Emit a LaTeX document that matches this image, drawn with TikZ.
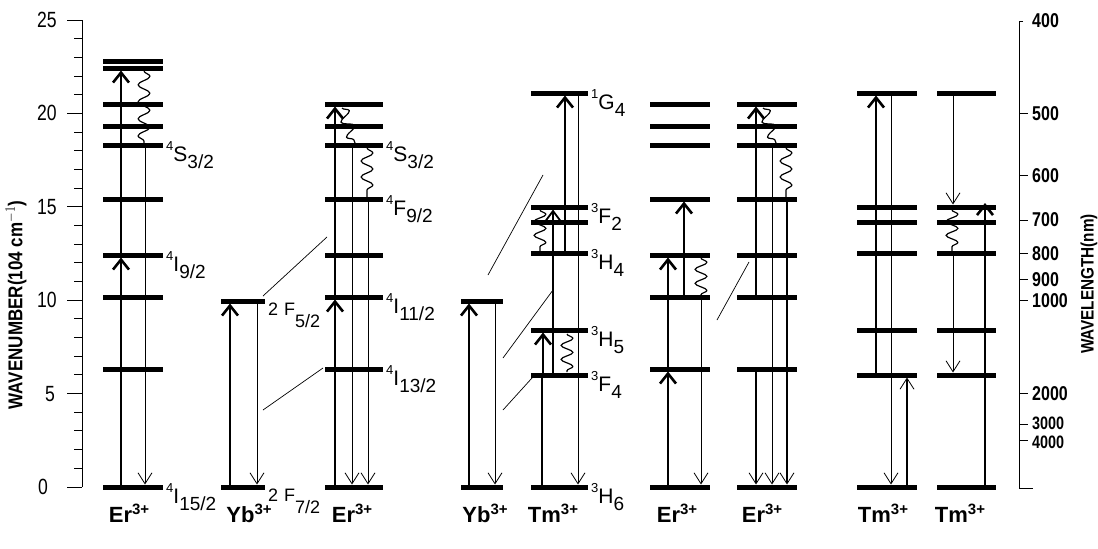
\documentclass[tikz,border=0pt]{standalone}
\usepackage{fontspec}
\setmainfont{Liberation Sans}
\newfontfamily\narrowfont[FakeStretch=0.8]{Liberation Sans}
\usetikzlibrary{arrows.meta,decorations.pathmorphing}
\newcommand{\termlab}[3]{\raisebox{11pt}{\fontsize{13}{13}\selectfont #1}{\fontsize{21}{21}\selectfont #2}\raisebox{-7pt}{\fontsize{19}{19}\selectfont #3}}
\newcommand{\ionlab}[1]{{\bfseries\fontsize{22}{22}\selectfont #1\raisebox{8pt}{\fontsize{15}{15}\selectfont 3+}}}
\newcommand{\ybterm}[1]{{\fontsize{18}{18}\selectfont 2\hspace{6pt}F\raisebox{-12pt}{\fontsize{18}{18}\selectfont #1}}}
\begin{document}
\begin{tikzpicture}[x=1pt,y=-1pt,
  lev/.style={line width=5pt},
  axisline/.style={line width=1pt},
  thickarrow/.style={line width=2.6pt,-{Straight Barb[length=10pt,width=16pt]}},
  medarrow/.style={line width=1.8pt,-{Straight Barb[length=10pt,width=15pt]}},
  medline/.style={line width=1.8pt},
  medthin/.style={line width=1.6pt,-{Straight Barb[length=11pt,width=14pt,line width=0.8pt]}},
  thinarrow/.style={line width=0.8pt,-{Straight Barb[length=11pt,width=14pt]}},
  wavy/.style={line width=1.2pt,line join=round,decorate,decoration={snake,amplitude=6pt,segment length=#1}},
  diag/.style={line width=0.7pt},
  termnode/.style={anchor=base west,inner sep=0pt},
  ionnode/.style={anchor=base,inner sep=0pt},
  lefttick/.style={inner sep=0pt,font=\narrowfont\fontsize{22}{22}\selectfont},
  righttick/.style={anchor=west,inner sep=0pt,font=\narrowfont\bfseries\fontsize{20}{20}\selectfont},
]
\useasboundingbox (0,0) rectangle (1098,549);

% ---------- left axis ----------
\draw[axisline] (82,20) -- (82,487);
\foreach \e in {0,...,25} {
  \pgfmathsetmacro\yy{487-18.68*\e}
  \draw[axisline] (74,\yy) -- (82,\yy);
}
\foreach \e in {0,5,...,25} {
  \pgfmathsetmacro\yy{487-18.68*\e}
  \draw[axisline] (67,\yy) -- (82,\yy);
}
\node[lefttick] (t25) at (47,20) {25};
\node[lefttick] (t20) at (47,113.4) {20};
\node[lefttick] (t15) at (47,206.8) {15};
\node[lefttick] (t10) at (47,300.2) {10};
\node[lefttick] (t5) at (50,393.6) {5};
\node[lefttick] (t0) at (43,487) {0};
\node[rotate=90,inner sep=0pt] (ylab) at (16,305)
  {\scalebox{0.85}[1]{\bfseries\fontsize{20}{20}\selectfont WAVENUMBER(104 cm$^{-1}$)}};

% ---------- right axis ----------
\draw[axisline] (1023,21) -- (1019,21) -- (1019,488) -- (1033,488);
\foreach \yy in {113.4,175.7,220.1,253.5,279.4,300.2,393.6,424.7,440.3}
  \draw[axisline] (1019,\yy) -- (1028,\yy);
\node[righttick] (w400) at (1032,21) {400};
\node[righttick] (w500) at (1032,113.4) {500};
\node[righttick] (w600) at (1032,175.7) {600};
\node[righttick] (w700) at (1032,220.1) {700};
\node[righttick] (w800) at (1032,253.5) {800};
\node[righttick] (w900) at (1032,279.4) {900};
\node[righttick] (w1000) at (1032,300.2) {1000};
\node[righttick] (w2000) at (1032,393.6) {2000};
\node[righttick,anchor=south west,font=\narrowfont\bfseries\fontsize{18}{18}\selectfont] (w3000) at (1032,430) {3000};
\node[righttick,anchor=north west,font=\narrowfont\bfseries\fontsize{18}{18}\selectfont] (w4000) at (1032,436) {4000};
\node[rotate=90,inner sep=0pt] (rlab) at (1089,284)
  {\scalebox{0.85}[1]{\bfseries\fontsize{18}{18}\selectfont WAVELENGTH(nm)}};

% ---------- levels ----------
\foreach \y in {487,369,297,255,199,145,126,104,68,61}
  \draw[lev] (103,\y) -- (163,\y);
\foreach \y in {487,301} {
  \draw[lev] (221,\y) -- (265,\y);
  \draw[lev] (461,\y) -- (503,\y);
}
\foreach \y in {487,369,297,255,199,145,126,104} {
  \draw[lev] (325,\y) -- (383,\y);
  \draw[lev] (650,\y) -- (710,\y);
  \draw[lev] (737,\y) -- (797,\y);
}
\foreach \y in {487,375,330,253,222,207,93} {
  \draw[lev] (531,\y) -- (588,\y);
  \draw[lev] (857,\y) -- (917,\y);
  \draw[lev] (937,\y) -- (996,\y);
}

% ---------- Er column 1 ----------
\draw[thickarrow] (121,487) -- (121,257.5);
\draw[thickarrow] (121,255) -- (121,70.5);
\draw[wavy=17pt] (144,71) -- (144,143);
\draw[thinarrow] (145,147) -- (145,484.5);

% ---------- Yb column 1 ----------
\draw[thickarrow] (230,487) -- (230,303.5);
\draw[thinarrow] (257,303) -- (257,484.5);

% ---------- Er column 2 ----------
\draw[thickarrow] (335,487) -- (335,299.5);
\draw[thickarrow] (335,297) -- (335,106.5);
\draw[wavy=16pt] (342,108) -- (355,143);
\draw[thinarrow] (352,147) -- (352,484.5);
\draw[wavy=16pt] (367,148) -- (367,197);
\draw[thinarrow] (368,201) -- (368,484.5);

% ---------- Yb column 2 ----------
\draw[thickarrow] (469,487) -- (469,303.5);
\draw[thinarrow] (495,303) -- (495,484.5);

% ---------- Tm column 1 ----------
\draw[medline] (542,487) -- (542,375);
\draw[thickarrow] (543,375) -- (543,332.5);
\draw[wavy=14pt] (567,334) -- (567,372);
\draw[medarrow] (553,375) -- (553,209.5);
\draw[wavy=14pt] (540,210) -- (540,251);
\draw[thickarrow] (565,253) -- (565,95.5);
\draw[thinarrow] (578,95) -- (578,484.5);

% ---------- Er column 3 ----------
\draw[thickarrow] (668,487) -- (668,371.5);
\draw[thickarrow] (668,369) -- (668,257.5);
\draw[thickarrow] (684,297) -- (684,201.5);
\draw[wavy=14pt] (701,258) -- (701,295);
\draw[thinarrow] (701,299) -- (701,484.5);

% ---------- Er column 4 ----------
\draw[thickarrow] (756,297) -- (756,106.5);
\draw[wavy=16pt] (763,108) -- (776,143);
\draw[thinarrow] (772,147) -- (772,484.5);
\draw[wavy=16pt] (786,148) -- (786,197);
\draw[medthin] (787,201) -- (787,484.5);
\draw[medthin] (756,371) -- (756,484.5);

% ---------- Tm column 2 ----------
\draw[thickarrow] (876,375) -- (876,95.5);
\draw[thinarrow] (891,95) -- (891,484.5);
\draw[medthin] (907,487) -- (907,377.5);

% ---------- Tm column 3 ----------
\draw[thinarrow] (953,95) -- (953,204.5);
\draw[wavy=14pt] (952,210) -- (952,251);
\draw[thinarrow] (953,255) -- (953,372.5);
\draw[thickarrow] (985,487) -- (985,203);

% ---------- energy transfer lines ----------
\draw[diag] (263,296) -- (327,237);
\draw[diag] (263,410) -- (323,368);
\draw[diag] (488,275) -- (543,175);
\draw[diag] (503,358) -- (553,290);
\draw[diag] (503,410) -- (532,378);
\draw[diag] (717,320) -- (749,262);

% ---------- term labels ----------
\node[termnode] (a1) at (166,161) {\termlab{4}{S}{3/2}};
\node[termnode] (a2) at (166,271) {\termlab{4}{I}{9/2}};
\node[termnode] (a3) at (166,503) {\termlab{4}{I}{15/2}};
\node[termnode] (b1) at (268,315) {\ybterm{5/2}};
\node[termnode] (b2) at (268,501) {\ybterm{7/2}};
\node[termnode] (c1) at (386,161) {\termlab{4}{S}{3/2}};
\node[termnode] (c2) at (386,215) {\termlab{4}{F}{9/2}};
\node[termnode] (c3) at (386,313) {\termlab{4}{I}{11/2}};
\node[termnode] (c4) at (386,385) {\termlab{4}{I}{13/2}};
\node[termnode] (d1) at (591,109) {\termlab{1}{G}{4}};
\node[termnode] (d2) at (591,223) {\termlab{3}{F}{2}};
\node[termnode] (d3) at (591,269) {\termlab{3}{H}{4}};
\node[termnode] (d4) at (591,346) {\termlab{3}{H}{5}};
\node[termnode] (d5) at (591,391) {\termlab{3}{F}{4}};
\node[termnode] (d6) at (591,503) {\termlab{3}{H}{6}};

% ---------- ion labels ----------
\node[ionnode] (i1) at (129,522) {\ionlab{Er}};
\node[ionnode] (i2) at (249,522) {\ionlab{Yb}};
\node[ionnode] (i3) at (352,522) {\ionlab{Er}};
\node[ionnode] (i4) at (485,522) {\ionlab{Yb}};
\node[ionnode] (i5) at (553,522) {\ionlab{Tm}};
\node[ionnode] (i6) at (677,522) {\ionlab{Er}};
\node[ionnode] (i7) at (762,522) {\ionlab{Er}};
\node[ionnode] (i8) at (883,522) {\ionlab{Tm}};
\node[ionnode] (i9) at (960,522) {\ionlab{Tm}};
\end{tikzpicture}
\end{document}
